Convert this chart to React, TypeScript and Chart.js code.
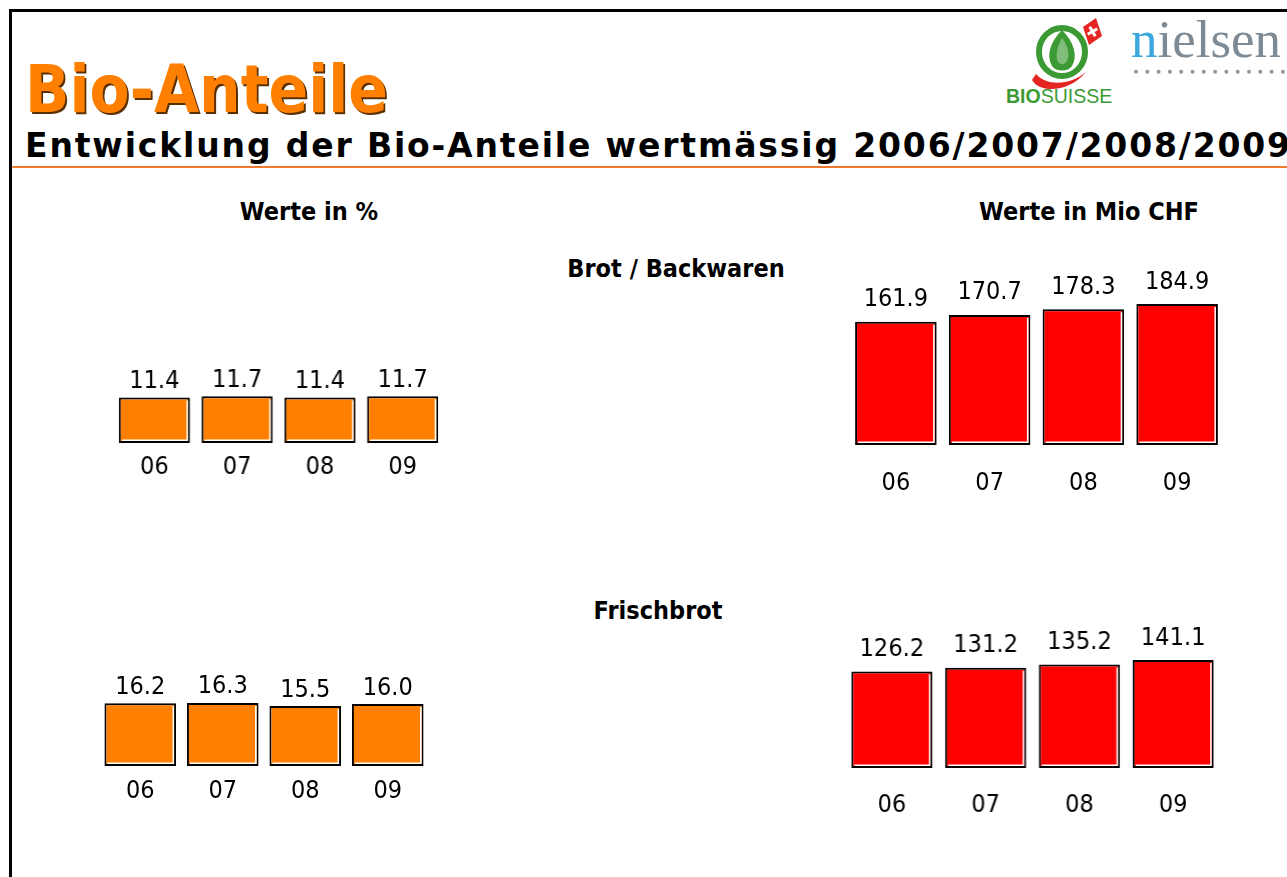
import React, { useEffect, useRef } from "react";
import { Chart, registerables } from "chart.js";

Chart.register(...registerables);

// ---- data ----
const years = ["06", "07", "08", "09"];
const brotBackwarenPct = [11.4, 11.7, 11.4, 11.7];
const brotBackwarenMioChf = [161.9, 170.7, 178.3, 184.9];
const frischbrotPct = [16.2, 16.3, 15.5, 16.0];
const frischbrotMioChf = [126.2, 131.2, 135.2, 141.1];

const ORANGE = "#FF8000";
const RED = "#FF0000";
const LABEL_FONT = "'DejaVu Sans Condensed', 'DejaVu Sans', sans-serif";
const LABEL_SIZE = 25;

type BarProps = {
  labels: string[];
  values: number[];
  color: string;
  left: number;
  width: number;
  bottom: number;
  pxPerUnit: number;
  areaH: number;
  tickPad: number;
  valueGap: number;
  barFrac: number;
};

const AXIS_H = 60;

function BarChart(p: BarProps) {
  const ref = useRef<HTMLCanvasElement>(null);
  useEffect(() => {
    const decor = {
      id: "barDecor",
      afterDatasetsDraw(chart: any) {
        const ctx = chart.ctx;
        const meta = chart.getDatasetMeta(0);
        ctx.save();
        meta.data.forEach((bar: any, i: number) => {
          const { x, y, base, width } = bar.getProps(["x", "y", "base", "width"], true);
          const l = x - width / 2;
          const r = x + width / 2;
          // inner white highlight on right and bottom
          ctx.strokeStyle = "#ffffff";
          ctx.lineWidth = 1.5;
          ctx.beginPath();
          ctx.moveTo(r - 2.75, y + 3);
          ctx.lineTo(r - 2.75, base - 2.75);
          ctx.lineTo(l + 3, base - 2.75);
          ctx.stroke();
          // value label
          ctx.fillStyle = "#000";
          ctx.font = `${LABEL_SIZE}px ${LABEL_FONT}`;
          ctx.textAlign = "center";
          ctx.textBaseline = "alphabetic";
          ctx.fillText(p.values[i].toFixed(1), x, y - p.valueGap);
        });
        ctx.restore();
      },
    };
    const chart = new Chart(ref.current as HTMLCanvasElement, {
      type: "bar",
      data: {
        labels: p.labels,
        datasets: [
          {
            data: p.values,
            backgroundColor: p.color,
            borderColor: "#000000",
            borderWidth: 2,
            borderSkipped: false,
            categoryPercentage: 1,
            barPercentage: p.barFrac,
          },
        ],
      },
      options: {
        responsive: false,
        animation: false,
        devicePixelRatio: 1,
        layout: { padding: 0 },
        plugins: {
          legend: { display: false },
          tooltip: { enabled: false },
          title: { display: false },
        },
        scales: {
          x: {
            grid: { display: false, drawTicks: false },
            border: { display: false },
            ticks: {
              color: "#000",
              font: { family: LABEL_FONT, size: LABEL_SIZE },
              padding: p.tickPad,
            },
            afterFit: (s: any) => {
              s.height = AXIS_H;
              s.paddingLeft = 0;
              s.paddingRight = 0;
            },
          },
          y: { display: false, min: 0, max: p.areaH / p.pxPerUnit },
        },
      } as any,
      plugins: [decor],
    });
    return () => chart.destroy();
  }, []);
  const h = p.areaH + AXIS_H;
  return (
    <canvas
      ref={ref}
      width={p.width}
      height={h}
      style={{ position: "absolute", left: p.left, top: p.bottom - p.areaH, width: p.width, height: h }}
    />
  );
}

function Txt(props: {
  text: React.ReactNode;
  cx?: number;
  left?: number;
  baseline: number;
  size: number;
  bold?: boolean;
  family?: string;
  color?: string;
  scaleX?: number;
  ratio?: number;
  spacing?: number;
  shadow?: string;
}) {
  const ratio = props.ratio ?? 0.846;
  const top = props.baseline - props.size * ratio;
  const sx = props.scaleX ?? 1;
  const style: React.CSSProperties = {
    position: "absolute",
    top,
    whiteSpace: "nowrap",
    fontSize: props.size,
    lineHeight: `${props.size}px`,
    fontWeight: props.bold ? "bold" : "normal",
    fontFamily: props.family ?? "'DejaVu Sans', sans-serif",
    color: props.color ?? "#000",
    letterSpacing: props.spacing ? `${props.spacing}px` : undefined,
    textShadow: props.shadow,
  };
  if (props.cx !== undefined) {
    style.left = props.cx - 400;
    style.width = 800;
    style.textAlign = "center";
    style.transform = `scaleX(${sx})`;
    style.transformOrigin = "center";
  } else {
    style.left = props.left;
    style.transform = `scaleX(${sx})`;
    style.transformOrigin = "left";
  }
  return <div style={style}>{props.text}</div>;
}

function Logos() {
  const dots = [];
  for (let i = 0; i < 14; i++) {
    dots.push(<circle key={i} cx={1136 + i * 11.3} cy={71.7} r={2} fill="#8f969c" />);
  }
  return (
    <svg
      width={1287}
      height={120}
      style={{ position: "absolute", left: 0, top: 0 }}
    >
      {/* Bio Suisse bud logo */}
      <path d="M1032 80 C1040 94 1070 92 1086 72 C1070 86 1046 86 1036 74 Z" fill="#e52521" />
      <ellipse cx={1062} cy={52} rx={23} ry={24} fill="none" stroke="#3c9a35" strokeWidth={6} />
      <path d="M1062 30 C1050 42 1046 56 1052 66 C1056 72 1068 72 1072 66 C1078 56 1074 42 1062 30 Z" fill="#3c9a35" />
      <path d="M1062 38 C1057 47 1055 56 1058 62 C1061 65 1065 65 1067 61 C1070 55 1068 46 1062 38 Z" fill="#ffffff" opacity={0.35} />
      <path d="M1083 27 L1096 18 L1102 36 L1089 45 Z" fill="#e52521" />
      <path d="M1091 26 h3 v4 h4 v3 h-4 v4 h-3 v-4 h-4 v-3 h4 Z" fill="#ffffff" transform="rotate(-30 1092.5 31.5)" />
      {dots}
    </svg>
  );
}

export default function App() {
  return (
    <div
      style={{
        position: "absolute",
        left: 0,
        top: 0,
        width: 1287,
        height: 877,
        overflow: "hidden",
        background: "#fff",
      }}
    >
      {/* slide frame */}
      <div
        style={{
          position: "absolute",
          left: 9,
          top: 9,
          width: 1400,
          height: 1000,
          borderLeft: "3px solid #000",
          borderTop: "3px solid #000",
        }}
      />
      {/* orange rule under the subtitle */}
      <div style={{ position: "absolute", left: 12, top: 166, width: 1300, height: 1.5, background: "#F07A30" }} />

      <Logos />
      <Txt
        left={1006}
        baseline={103.5}
        size={19.5}
        family="'Liberation Sans', Arial, sans-serif"
        color="#3c9a35"
        text={
          <>
            <b>BIO</b>SUISSE
          </>
        }
      />
      <Txt
        left={1131}
        baseline={57}
        size={53}
        ratio={0.8375}
        family="'Liberation Serif', 'Times New Roman', serif"
        color="#7e8a94"
        text={
          <>
            <span style={{ color: "#3aa8df" }}>n</span>ielsen
          </>
        }
      />

      <Txt
        left={25}
        baseline={113}
        size={66}
        bold
        scaleX={0.885}
        color={ORANGE}
        shadow="2px 2px 0 #5a3000"
        text="Bio-Anteile"
      />
      <Txt
        left={25}
        baseline={157}
        size={33}
        bold
        spacing={1.85}
        text="Entwicklung der Bio-Anteile wertmässig 2006/2007/2008/2009"
      />

      <Txt cx={309} baseline={220} size={25} bold scaleX={0.9} text="Werte in %" />
      <Txt cx={1089} baseline={220} size={25} bold scaleX={0.9} text="Werte in Mio CHF" />
      <Txt cx={676} baseline={276.7} size={25} bold scaleX={0.9} text="Brot / Backwaren" />
      <Txt cx={657.5} baseline={619.3} size={25} bold scaleX={0.9} text="Frischbrot" />

      <BarChart
        labels={years}
        values={brotBackwarenPct}
        color={ORANGE}
        left={112.9}
        width={330.7}
        bottom={442.7}
        pxPerUnit={4.0}
        areaH={130}
        tickPad={9}
        valueGap={9.5}
        barFrac={0.86}
      />
      <BarChart
        labels={years}
        values={brotBackwarenMioChf}
        color={RED}
        left={848.9}
        width={375.2}
        bottom={445}
        pxPerUnit={0.762}
        areaH={200}
        tickPad={23}
        valueGap={15.5}
        barFrac={0.87}
      />
      <BarChart
        labels={years}
        values={frischbrotPct}
        color={ORANGE}
        left={98.5}
        width={330.4}
        bottom={766}
        pxPerUnit={3.87}
        areaH={130}
        tickPad={10}
        valueGap={9.5}
        barFrac={0.868}
      />
      <BarChart
        labels={years}
        values={frischbrotMioChf}
        color={RED}
        left={845.3}
        width={374.8}
        bottom={768.3}
        pxPerUnit={0.765}
        areaH={200}
        tickPad={22}
        valueGap={15.5}
        barFrac={0.865}
      />
    </div>
  );
}
